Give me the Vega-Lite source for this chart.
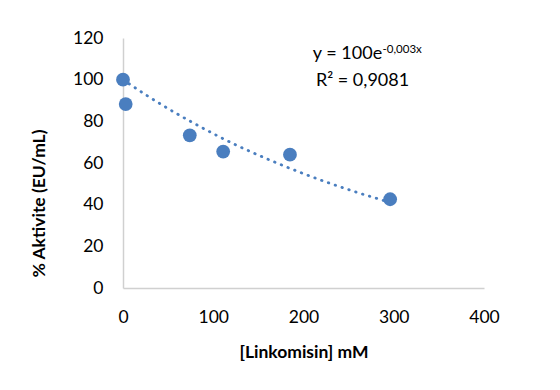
{
  "$schema": "https://vega.github.io/schema/vega-lite/v6.json",
  "width": 361,
  "height": 250,
  "autosize": "none",
  "padding": {"left": 123, "top": 38, "right": 76, "bottom": 102},
  "background": "white",
  "config": {
    "view": {"stroke": null},
    "font": "Lato",
    "axis": {"grid": false, "ticks": false, "labelFlush": false, "domainColor": "#d0d0d0", "domainWidth": 1.5, "labelFont": "Lato", "labelFontSize": 17.5, "labelColor": "#000000", "titleFont": "Lato", "titleFontSize": 17.5, "titleFontWeight": "bold", "titleColor": "#000000"}
  },
  "datasets": {
    "points": [
      {"x": 0, "y": 100},
      {"x": 3, "y": 88.3},
      {"x": 74, "y": 73.3},
      {"x": 111, "y": 65.5},
      {"x": 185, "y": 64},
      {"x": 296, "y": 42.6}
    ],
    "trend": [
      {"x": 0, "y": 100},
      {"x": 25, "y": 92.8},
      {"x": 50, "y": 86.1},
      {"x": 75, "y": 79.9},
      {"x": 100, "y": 74.1},
      {"x": 125, "y": 68.7},
      {"x": 150, "y": 63.8},
      {"x": 175, "y": 59.2},
      {"x": 200, "y": 54.9},
      {"x": 225, "y": 50.9},
      {"x": 250, "y": 47.2},
      {"x": 275, "y": 43.8},
      {"x": 296, "y": 41.1}
    ],
    "labels": [
      {"x": 287.2, "y": 109.8, "t": "y = 100e", "kind": "main"},
      {"x": 287.6, "y": 112.6, "t": "-0,003x", "kind": "sup"},
      {"x": 265.4, "y": 97.0, "t": "R² = 0,9081", "kind": "r2"}
    ]
  },
  "layer": [
    {
      "data": {"name": "trend"},
      "mark": {"type": "line", "color": "#4a7ebf", "strokeWidth": 2.8, "strokeCap": "round", "strokeDash": [0.5, 6.7], "interpolate": "monotone"},
      "encoding": {
        "x": {"field": "x", "type": "quantitative", "scale": {"domain": [0, 400]}, "axis": {"values": [0, 100, 200, 300, 400], "title": "[Linkomisin] mM", "labelPadding": 20, "titlePadding": 18}},
        "y": {"field": "y", "type": "quantitative", "scale": {"domain": [0, 120]}, "axis": {"values": [0, 20, 40, 60, 80, 100, 120], "title": "% Aktivite (EU/mL)", "labelPadding": 20, "titleAngle": -90, "titleX": -84, "titleY": 165, "titleAlign": "center", "titleBaseline": "middle"}}
      }
    },
    {
      "data": {"name": "points"},
      "mark": {"type": "point", "filled": true, "shape": "circle", "size": 190, "color": "#4a7ebf", "opacity": 1},
      "encoding": {
        "x": {"field": "x", "type": "quantitative"},
        "y": {"field": "y", "type": "quantitative"}
      }
    },
    {
      "data": {"name": "labels"},
      "transform": [{"filter": "datum.kind == 'main'"}],
      "mark": {"type": "text", "align": "right", "baseline": "alphabetic", "fontSize": 18, "color": "#000000"},
      "encoding": {
        "x": {"field": "x", "type": "quantitative"},
        "y": {"field": "y", "type": "quantitative"},
        "text": {"field": "t"}
      }
    },
    {
      "data": {"name": "labels"},
      "transform": [{"filter": "datum.kind == 'sup'"}],
      "mark": {"type": "text", "align": "left", "baseline": "alphabetic", "fontSize": 11.5, "color": "#000000"},
      "encoding": {
        "x": {"field": "x", "type": "quantitative"},
        "y": {"field": "y", "type": "quantitative"},
        "text": {"field": "t"}
      }
    },
    {
      "data": {"name": "labels"},
      "transform": [{"filter": "datum.kind == 'r2'"}],
      "mark": {"type": "text", "align": "center", "baseline": "alphabetic", "fontSize": 18, "color": "#000000"},
      "encoding": {
        "x": {"field": "x", "type": "quantitative"},
        "y": {"field": "y", "type": "quantitative"},
        "text": {"field": "t"}
      }
    }
  ]
}
